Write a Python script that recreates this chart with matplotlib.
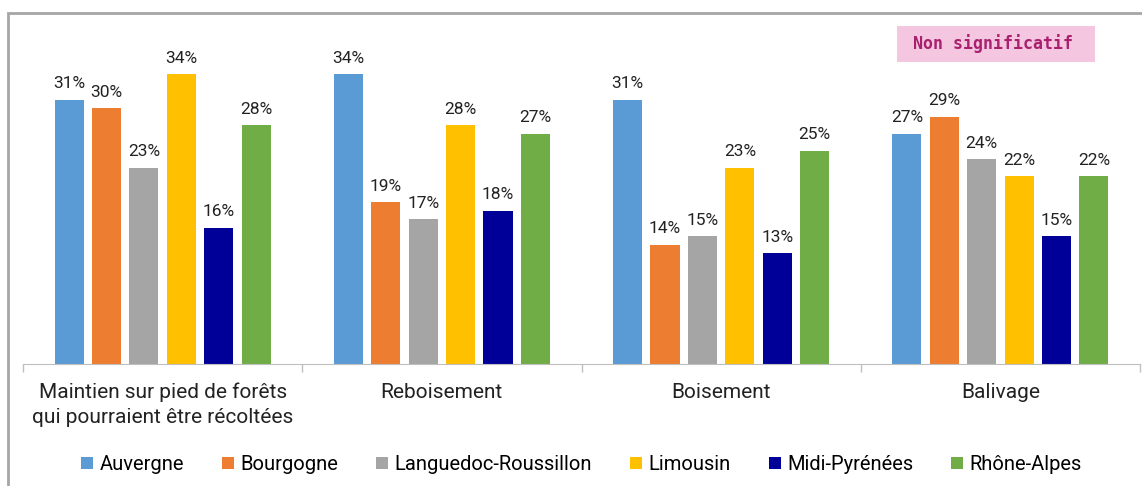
import numpy as np
import matplotlib.pyplot as plt
from matplotlib.patches import Rectangle

plt.rcParams['font.family'] = ['Roboto', 'DejaVu Sans']

categories = ["Maintien sur pied de forêts\nqui pourraient être récoltées",
              "Reboisement", "Boisement", "Balivage"]
regions = ["Auvergne", "Bourgogne", "Languedoc-Roussillon", "Limousin",
           "Midi-Pyrénées", "Rhône-Alpes"]
auvergne = [31, 34, 31, 27]
bourgogne = [30, 19, 14, 29]
languedoc = [23, 17, 15, 24]
limousin = [34, 28, 23, 22]
midi_pyrenees = [16, 18, 13, 15]
rhone_alpes = [28, 27, 25, 22]
colors = ["#5B9BD5", "#ED7D31", "#A5A5A5", "#FFC000", "#000099", "#70AD47"]

series = [auvergne, bourgogne, languedoc, limousin, midi_pyrenees, rhone_alpes]

fig = plt.figure(figsize=(11.42, 4.86), dpi=100)
ax = fig.add_axes([23 / 1142, 122 / 486, 1117 / 1142, 341 / 486])

x = np.arange(len(categories))
pitch = 0.134
width = 0.104
for i, (vals, name, col) in enumerate(zip(series, regions, colors)):
    pos = x + (i - 2.5) * pitch
    ax.bar(pos, vals, width, color=col, label=name)
    for px, v in zip(pos, vals):
        ax.text(px, v + 1.0, f"{v}%", ha='center', va='bottom',
                fontsize=12.5, color='#222222')

ax.set_xlim(-0.5, len(categories) - 0.5)
ax.set_ylim(0, 40)
ax.set_yticks([])
for s in ['top', 'right', 'left']:
    ax.spines[s].set_visible(False)
ax.spines['bottom'].set_color('#BFBFBF')
ax.set_xticks(np.arange(len(categories) + 1) - 0.5, minor=False)
ax.set_xticklabels([])
ax.tick_params(axis='x', length=6, color='#BFBFBF', width=1)
for xi, lab in zip(x, categories):
    ax.text(xi, -2.2, lab, ha='center', va='top', fontsize=15,
            color='#222222', linespacing=1.4)

ax.legend(loc='center', bbox_to_anchor=(0.5, -0.295), ncol=6, frameon=False,
          fontsize=14.5, handlelength=0.6, handleheight=0.6,
          handletextpad=0.3, columnspacing=1.9)

fig.text(993 / 1142, 1 - 44 / 486, "Non significatif", ha='center',
         va='center', fontsize=12, fontweight='bold', color='#A8206E',
         family='DejaVu Sans Mono')
fig.patches.append(Rectangle((897 / 1142, 1 - 62 / 486), 198 / 1142, 36 / 486,
                             transform=fig.transFigure, facecolor='#F5C6DF',
                             edgecolor='none', zorder=0))
fig.patches.append(Rectangle((8 / 1142, -0.1), 1.2, 1 - 13 / 486 + 0.1,
                             transform=fig.transFigure, facecolor='none',
                             edgecolor='#A6A6A6', linewidth=2))

plt.savefig("out.png", dpi=100)
